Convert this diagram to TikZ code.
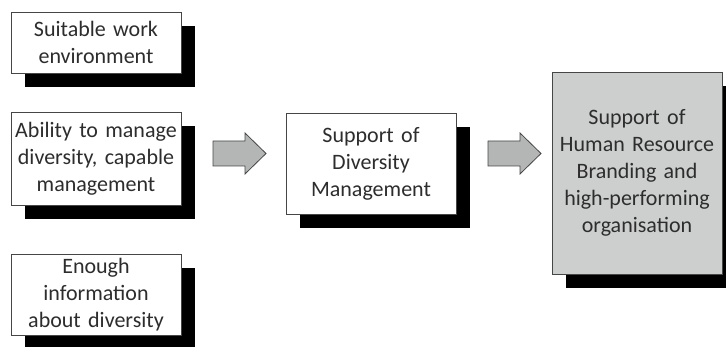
\documentclass[tikz,border=0pt]{standalone}
\usepackage{fontspec}
\setmainfont[WordSpace={0.85,0,0}]{Carlito}
\usetikzlibrary{shadows}
\definecolor{boxline}{RGB}{70,70,70}
\definecolor{arrowfill}{RGB}{180,182,182}
\definecolor{bigfill}{RGB}{205,207,207}
\definecolor{txt}{RGB}{45,45,45}
\begin{document}
\begin{tikzpicture}[x=1pt,y=1pt,
  box/.style={draw=boxline, line width=0.8pt, fill=white, minimum width=170pt,
    text width=170pt, align=center, inner sep=0pt, text=txt,
    font=\fontsize{22}{27}\selectfont,
    drop shadow={shadow xshift=14pt, shadow yshift=-14pt, fill=black, opacity=1}},
  blockarrow/.style={draw=boxline, line width=0.8pt, fill=arrowfill, line join=miter}]
\useasboundingbox (0,0) rectangle (726,347);
\node[box, minimum height=61pt] (env) at (96,304.5) {Suitable work\\environment};
\node[box, minimum height=93pt] (abil) at (96,188.5) {Ability to manage\\diversity, capable\\management};
\node[box, minimum height=81pt] (info) at (96,52.5) {Enough\\information\\about diversity};
\node[box, minimum height=101pt] (supp) at (371,183.5) {Support of\\Diversity\\Management};
\node[box, fill=bigfill, minimum height=202pt] (hr) at (637,174) {Support of\\Human Resource\\Branding and\\high-performing\\organisation};
\coordinate (a1) at (213,193.5);
\coordinate (a2) at (488,193.5);
\draw[blockarrow] (a1) ++(0,12.5) -- ++(32,0) -- ++(0,8) -- ++(21,-20.5) -- ++(-21,-20.5) -- ++(0,8) -- ++(-32,0) -- cycle;
\draw[blockarrow] (a2) ++(0,12.5) -- ++(32,0) -- ++(0,8) -- ++(21,-20.5) -- ++(-21,-20.5) -- ++(0,8) -- ++(-32,0) -- cycle;
\end{tikzpicture}
\end{document}
